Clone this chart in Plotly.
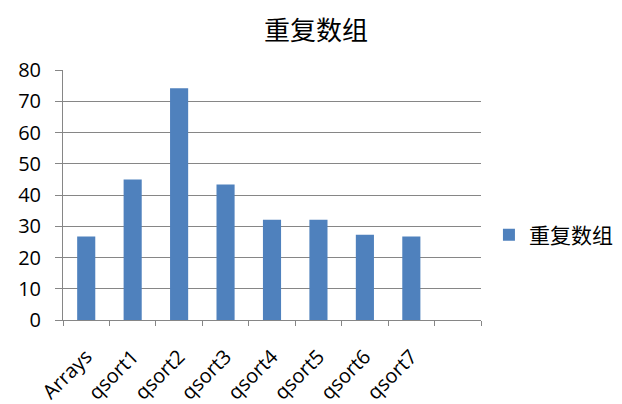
import plotly.graph_objects as go

categories = ['Arrays', 'qsort1', 'qsort2', 'qsort3', 'qsort4',
              'qsort5', 'qsort6', 'qsort7', ' ']
values = [26.7, 45.0, 74.2, 43.4, 32.1, 32.1, 27.3, 26.7, None]
series_name = '重复数组'
y_ticks = [0, 10, 20, 30, 40, 50, 60, 70, 80]

bar_color = '#4F81BD'
grid_color = '#868686'
latin_font = 'Open Sans'
cjk_font = 'Noto Sans CJK SC'

fig = go.Figure()

fig.add_trace(go.Bar(
    x=categories,
    y=values,
    name=series_name,
    marker=dict(color=bar_color, line=dict(width=0)),
    showlegend=True,
))

# page shows the figure offset by the body margin, so margins are shifted
fig.update_layout(
    width=622,
    height=404,
    margin=dict(l=55, r=149, t=62, b=92, autoexpand=False),
    paper_bgcolor='white',
    plot_bgcolor='white',
    bargap=0.61,
    title=dict(
        text=series_name,
        x=0.495, xref='container', xanchor='center',
        y=0.943, yref='container', yanchor='middle',
        font=dict(family=cjk_font, size=26, color='black'),
    ),
    legend=dict(
        x=1.019, y=0.34, xanchor='left', yanchor='middle',
        font=dict(family=cjk_font, size=21, color='black'),
        itemwidth=30,
        itemsizing='constant',
        bgcolor='rgba(0,0,0,0)',
    ),
)

fig.update_xaxes(
    type='category',
    categoryorder='array',
    categoryarray=categories,
    tickson='boundaries',
    ticks='outside',
    ticklen=5,
    tickcolor=grid_color,
    tickangle=-45,
    ticklabelstandoff=16,
    tickfont=dict(family=latin_font, size=20, color='black'),
    showline=True,
    linecolor=grid_color,
    linewidth=1,
    showgrid=False,
    automargin=False,
    range=[-0.5, 8.5],
)

fig.update_yaxes(
    range=[0, 80],
    tickvals=y_ticks,
    ticks='outside',
    ticklen=7,
    tickcolor=grid_color,
    ticklabelstandoff=10,
    tickfont=dict(family=latin_font, size=20, color='black'),
    showline=True,
    linecolor=grid_color,
    linewidth=1,
    showgrid=True,
    gridcolor=grid_color,
    gridwidth=1,
    zeroline=False,
    automargin=False,
)

fig.write_html("out.html")
